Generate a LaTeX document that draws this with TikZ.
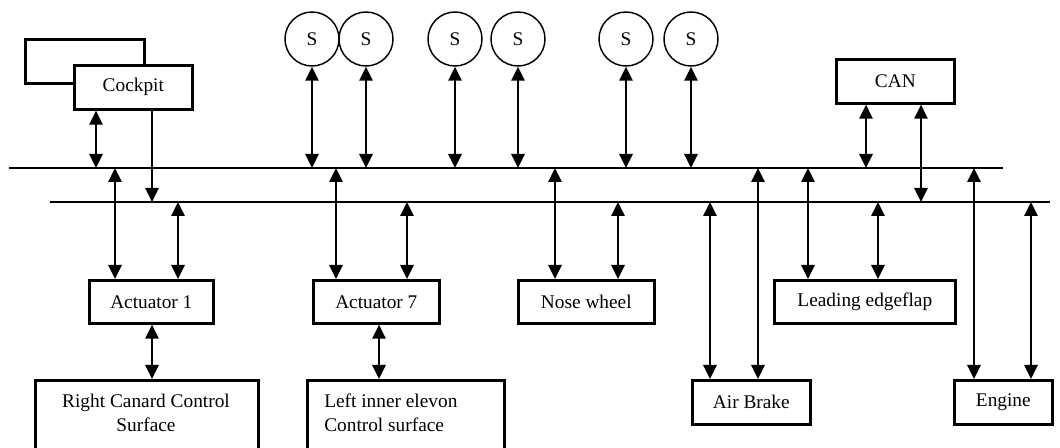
\documentclass[tikz,border=0pt]{standalone}
\usepackage{fontspec}
\setmainfont{Liberation Serif}
\usetikzlibrary{arrows.meta}
\newcommand{\pxu}{0.75pt}
\begin{document}
\begin{tikzpicture}[x=0.75pt,y=-0.75pt,
  dbl/.style={line width=1.4pt,{Triangle[length=10.5pt,width=10pt]}-{Triangle[length=10.5pt,width=10pt]}},
  sgl/.style={line width=1.4pt,-{Triangle[length=10.5pt,width=10pt]}},
  bus/.style={line width=1.8pt},
  unit/.style={draw,line width=2pt,fill=white,inner sep=0pt,anchor=north west,
    font=\fontsize{14.5}{17.5}\selectfont},
  sensor/.style={draw,circle,line width=1.1pt,inner sep=0pt,minimum size=54*\pxu,
    font=\fontsize{14.5}{17.5}\selectfont},
  lbl/.style={inner sep=0pt,font=\fontsize{14.5}{17.5}\selectfont}]
\useasboundingbox (0,0) rectangle (1060,448);
\clip (0,0) rectangle (1060,448);

% data buses
\coordinate (ubusW) at (9,168);
\coordinate (ubusE) at (1003,168);
\coordinate (lbusW) at (50,202);
\coordinate (lbusE) at (1050,202);
\draw[bus] (ubusW) -- (ubusE);
\draw[bus] (lbusW) -- (lbusE);

% cockpit with its stacked back panel
\node[unit,minimum width=119*\pxu,minimum height=44*\pxu] (cockback) at (24,38) {};
\node[unit,minimum width=118*\pxu,minimum height=44*\pxu] (cockpit) at (73,64) {Cockpit};
\node[unit,minimum width=118*\pxu,minimum height=44*\pxu] (can) at (835,58) {CAN};

% sensors
\foreach \n/\x in {1/312,2/366,3/455,4/518,5/626,6/691}{
  \node[sensor] (s\n) at (\x,39) {S};
  \draw[dbl] (s\n.south) -- (s\n.south |- ubusW);
}

% actuators and units
\node[unit,minimum width=124*\pxu,minimum height=43*\pxu] (act1) at (88,279) {Actuator 1};
\node[unit,minimum width=126*\pxu,minimum height=43*\pxu] (act7) at (312,279) {Actuator 7};
\node[unit,minimum width=136*\pxu,minimum height=43*\pxu] (nose) at (517,279) {Nose wheel};
\node[unit,minimum width=181*\pxu,minimum height=43*\pxu] (lead) at (773,279) {Leading edgeflap};
\node[unit,minimum width=118*\pxu,minimum height=44*\pxu] (air) at (691,379) {Air Brake};
\node[unit,minimum width=98*\pxu,minimum height=44*\pxu] (eng) at (953,379) {Engine};

% control surfaces
\node[unit,minimum width=223*\pxu,minimum height=100*\pxu] (rcan) at (34,379) {};
\node[unit,minimum width=197*\pxu,minimum height=100*\pxu] (lie) at (306,379) {};
\node[lbl,align=center,anchor=north] (rcantxt) at (146,394) {Right Canard Control\\Surface};
\node[lbl,align=left,anchor=north west] (lietxt) at (324,394) {Left inner elevon\\Control surface};

% cockpit links
\draw[dbl] (cockpit.south -| 96,0) -- (ubusW -| 96,0);
\draw[sgl] (cockpit.south -| 152,0) -- (lbusW -| 152,0);
\draw[dbl] (can.south -| 866,0) -- (ubusW -| 866,0);
\draw[dbl] (can.south -| 921,0) -- (lbusW -| 921,0);

% unit links to the buses
\draw[dbl] (ubusW -| 115,0) -- (act1.north -| 115,0);
\draw[dbl] (lbusW -| 178,0) -- (act1.north -| 178,0);
\draw[dbl] (ubusW -| 336,0) -- (act7.north -| 336,0);
\draw[dbl] (lbusW -| 407,0) -- (act7.north -| 407,0);
\draw[dbl] (ubusW -| 555,0) -- (nose.north -| 555,0);
\draw[dbl] (lbusW -| 618,0) -- (nose.north -| 618,0);
\draw[dbl] (lbusW -| 710,0) -- (air.north -| 710,0);
\draw[dbl] (ubusW -| 758,0) -- (air.north -| 758,0);
\draw[dbl] (ubusW -| 808,0) -- (lead.north -| 808,0);
\draw[dbl] (lbusW -| 878,0) -- (lead.north -| 878,0);
\draw[dbl] (ubusW -| 974,0) -- (eng.north -| 974,0);
\draw[dbl] (lbusW -| 1031,0) -- (eng.north -| 1031,0);

% actuator to surface links
\draw[dbl] (act1.south -| 152,0) -- (rcan.north -| 152,0);
\draw[dbl] (act7.south -| 379,0) -- (lie.north -| 379,0);
\end{tikzpicture}
\end{document}
